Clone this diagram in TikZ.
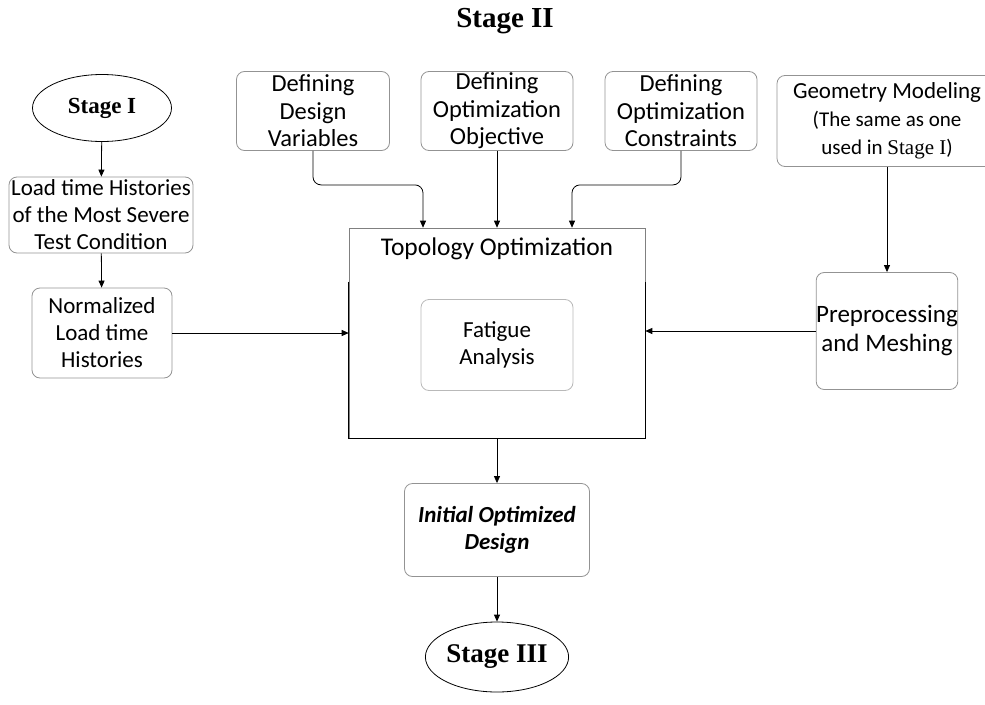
\documentclass[tikz,border=0pt]{standalone}
\usepackage{fontspec}
\setmainfont{Carlito}
\newfontfamily\timesfont{Liberation Serif}
\usetikzlibrary{shapes.geometric,arrows.meta}

\begin{document}
\begin{tikzpicture}[x=1pt, y=-1pt, >={Triangle[length=7pt,width=6pt]}, line width=0.8pt,
    box/.style={draw=gray!85, rounded corners=8pt, align=center, inner sep=0pt,
      font=\fontsize{23}{27}\selectfont},
    defbox/.style={box, minimum width=152pt, minimum height=79pt,
      font=\fontsize{24.5}{27.5}\selectfont},
    stage/.style={draw, ellipse, inner sep=0pt, font=\timesfont\bfseries\fontsize{23}{27}\selectfont}]
    \useasboundingbox (0,0) rectangle (985,704);
    \node (title) at (505,21) {\timesfont\bfseries\fontsize{29}{32}\selectfont Stage II};
    % left column
    \node[stage, minimum width=139pt, minimum height=67pt] (s1) at (102,108) {Stage I};
    \node[box, minimum width=184pt, minimum height=76pt] (load) at (101,215)
        {Load time Histories\\of the Most Severe\\Test Condition};
    \node[box, minimum width=140pt, minimum height=90pt] (norm) at (102,333)
        {Normalized\\Load time\\Histories};
    % top row
    \node[defbox, minimum width=153pt] (dv) at (313,111) {Defining\\Design\\Variables};
    \node[defbox] (obj) at (497,111) {Defining\\Optimization\\Objective};
    \node[defbox] (cons) at (681,111) {Defining\\Optimization\\Constraints};
    \node[box, minimum width=220pt, minimum height=91pt] (geo) at (887,121)
        {Geometry Modeling\\[1pt]{\fontsize{21}{26}\selectfont (The same as one}\\[1pt]
         {\fontsize{21}{26}\selectfont used in {\timesfont Stage I})}};
    % middle
    \node[draw=gray, line width=0.6pt, minimum width=296pt, minimum height=210pt, inner sep=0pt] (topo) at (497,333) {};
    \node[font=\fontsize{25.5}{28}\selectfont] (topot) at (497,249) {Topology Optimization};
    \draw[line width=1.3pt] (topo.north west) ++(0,54) |- (topo.south east) -- ++(0,-156);
    \node[box, draw=gray!55, minimum width=152pt, minimum height=91pt] (fat) at (497,345)
        {Fatigue\\Analysis};
    \node[box, minimum width=139pt, minimum height=117pt, font=\fontsize{25}{29}\selectfont] (pre) at (887,331)
        {Preprocessing\\and Meshing};
    \node[box, minimum width=185pt, minimum height=93pt, font=\fontsize{23}{27}\selectfont\bfseries\itshape] (init) at (497,530)
        {Initial Optimized\\Design};
    \node[stage, minimum width=126pt, minimum height=70pt, font=\timesfont\bfseries\fontsize{27}{30}\selectfont] (s3) at (497,657) {Stage III};
    % connectors
    \draw[->] (s1) -- (load);
    \draw[->] (load) -- (norm);
    \draw[->] (norm.east) -- (norm.east -| topo.west);
    \draw[->, rounded corners=8pt] (dv.south) -- ++(0,34) -| ([xshift=-74pt]topo.north);
    \draw[->] (obj.south) -- (topo.north);
    \draw[->, rounded corners=8pt] (cons.south) -- ++(0,34) -| ([xshift=75pt]topo.north);
    \draw[->] (geo.south) -- (pre.north);
    \draw[->] (pre.west) -- (pre.west -| topo.east);
    \draw[->] (topo.south) -- (init.north);
    \draw[->] (init.south) -- (s3.north);
\end{tikzpicture}
\end{document}
